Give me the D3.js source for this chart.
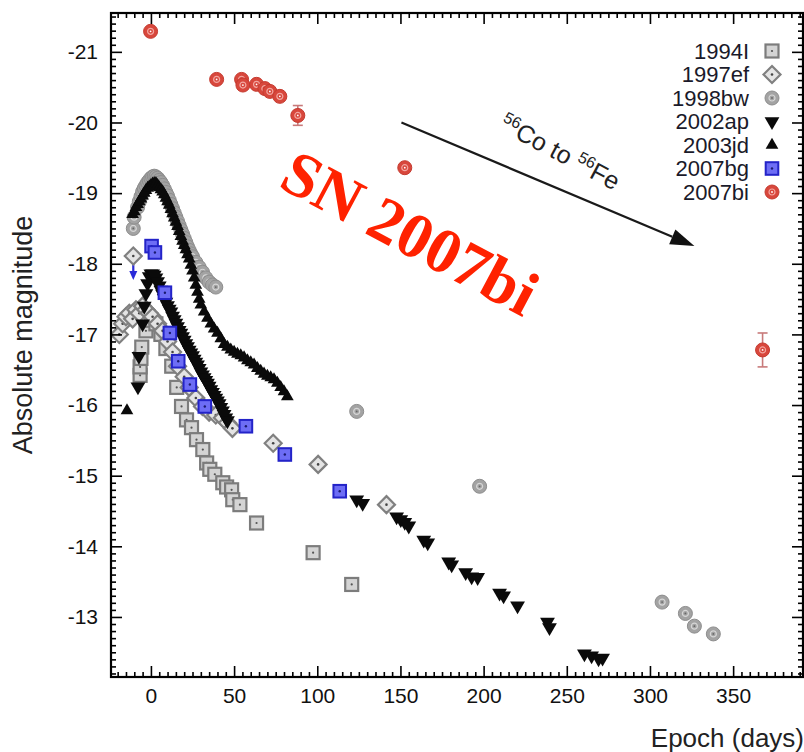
<!DOCTYPE html>
<html><head><meta charset="utf-8">
<script src="https://cdn.jsdelivr.net/npm/d3@7"></script>
<style>body{margin:0;background:#fff}text{font-family:"Liberation Sans",Arial,sans-serif}</style>
</head><body>
<svg id="c" width="804" height="752"></svg>
<script>
// ---------------- data ----------------
const xTicks = [0,50,100,150,200,250,300,350];
const yTicks = [-21,-20,-19,-18,-17,-16,-15,-14,-13];
const seriesNames = ["1994I","1997ef","1998bw","2002ap","2003jd","2007bg","2007bi"];

const sn1994I = [[-6.5,-16.42],[-6.5,-16.54],[-6,-16.66],[-5.5,-16.82],[-3,-17.05],[0,-17.20],[3,-17.15],[6,-17.00],[9,-16.80],[12.5,-16.55],[15.5,-16.25],[18.4,-15.98],[21.4,-15.79],[24.4,-15.68],[27.4,-15.51],[31.2,-15.37],[33.5,-15.18],[35.4,-15.09],[38.4,-15.02],[43.2,-14.90],[45.5,-14.84],[48.5,-14.80],[49.2,-14.66],[53.5,-14.59],[63.5,-14.33],[97.5,-13.91],[120.7,-13.46]];

const sn1997ef = [[-19,-17.00],[-17,-17.15],[-15,-17.25],[-13,-17.30],[-11,-17.22],[-10.6,-18.11],[-9,-17.35],[-7,-17.30],[-5,-17.40],[-3,-17.35],[-1,-17.30],[1,-17.25],[4,-17.15],[7,-17.05],[10,-16.90],[13,-16.75],[16,-16.55],[20,-16.40],[23,-16.25],[27,-16.10],[31,-15.98],[35,-15.90],[39,-15.86],[43,-15.82],[46,-15.75],[49,-15.67],[73.5,-15.46],[100.5,-15.16],[141.6,-14.59]];

const sn1998bw = [[-10.6,-18.50],[-10.1,-18.66],[-8,-18.80],[-7,-18.88],[-6,-18.95],[-5,-19.02],[-4,-19.07],[-3,-19.11],[-2,-19.15],[-1,-19.18],[0,-19.21],[1,-19.23],[2,-19.24],[3,-19.23],[4,-19.21],[5,-19.18],[6,-19.15],[7,-19.11],[8,-19.06],[9,-19.01],[10,-18.96],[11,-18.90],[12,-18.84],[13,-18.78],[14,-18.72],[15,-18.66],[16,-18.60],[17,-18.54],[18,-18.48],[19,-18.42],[20,-18.36],[21,-18.30],[22,-18.24],[23,-18.19],[24,-18.14],[25,-18.10],[27,-18.02],[29,-17.95],[31,-17.88],[33,-17.80],[35,-17.74],[37,-17.70],[39,-17.67],[123.7,-15.91],[197.6,-14.85],[307.3,-13.21],[321.3,-13.05],[326.7,-12.87],[338.1,-12.76]];

const sn2002ap = [[-7.8,-16.26],[-7.2,-16.69],[-5,-17.15],[-4,-17.40],[-3,-17.58],[-2,-17.72],[-1,-17.82],[0,-17.86],[1,-17.86],[2,-17.84],[3,-17.80],[4,-17.75],[5,-17.69],[6,-17.63],[7,-17.57],[8,-17.51],[9,-17.46],[10,-17.41],[11,-17.36],[12,-17.32],[13,-17.26],[14,-17.21],[15,-17.16],[16,-17.11],[17,-17.06],[18,-17.02],[19,-16.97],[20,-16.92],[21,-16.87],[22,-16.83],[23,-16.78],[24,-16.74],[25,-16.70],[26,-16.65],[27,-16.61],[28,-16.57],[29,-16.52],[30,-16.47],[31,-16.43],[32,-16.39],[33,-16.35],[34,-16.31],[35,-16.27],[36,-16.22],[37,-16.18],[38,-16.14],[39,-16.10],[40,-16.06],[41,-16.02],[42,-15.97],[43,-15.92],[44,-15.87],[45,-15.82],[46,-15.78],
[123.7,-14.66],[127.3,-14.61],[147.7,-14.42],[150.2,-14.38],[152.6,-14.34],[155,-14.29],[164,-14.09],[166.4,-14.05],[179,-13.78],[180.8,-13.74],[189.2,-13.63],[192.8,-13.57],[196.4,-13.56],[209.6,-13.34],[212,-13.30],[220.4,-13.16],[238.4,-12.93],[239.6,-12.85],[260.6,-12.48],[264.9,-12.45],[269.1,-12.41],[271.5,-12.42]];

const sn2003jd = [[-14.4,-15.92],[-11,-18.70],[-10,-18.74],[-9,-18.80],[-8,-18.84],[-7,-18.88],[-6,-18.92],[-5,-18.96],[-4,-19.00],[-3,-19.04],[-2,-19.07],[-1,-19.09],[0,-19.11],[1,-19.13],[2,-19.14],[3,-19.14],[4,-19.11],[5,-19.08],[6,-19.05],[7,-19.02],[8,-18.98],[9,-18.93],[10,-18.88],[11,-18.83],[12,-18.77],[13,-18.71],[14,-18.65],[15,-18.59],[16,-18.53],[17,-18.46],[18,-18.39],[19,-18.32],[20,-18.26],[21,-18.20],[22,-18.13],[23,-18.07],[24,-17.98],[25,-17.90],[26,-17.80],[27,-17.70],[28,-17.60],[29,-17.50],[30,-17.42],[32,-17.32],[34,-17.23],[36,-17.15],[38,-17.08],[40,-17.02],[42,-16.94],[44,-16.86],[46,-16.82],[48,-16.78],[50,-16.75],[52,-16.72],[54,-16.70],[56,-16.67],[58,-16.63],[60,-16.60],[62,-16.57],[64,-16.52],[66,-16.48],[68,-16.44],[70,-16.41],[72,-16.39],[74,-16.36],[76,-16.31],[78,-16.25],[80,-16.19],[82,-16.12]];

const sn2007bg = [[0.4,-18.25],[2.4,-18.16],[8.4,-17.59],[11.4,-17.02],[16.4,-16.62],[23.4,-16.29],[32.4,-15.98],[57.1,-15.70],[80.5,-15.30],[113.5,-14.78]];
const sn2007bgLimit = [[-10.6,-18.11,-17.80]];   // day, limit, arrow end

const sn2007bi = [[-0.2,-21.29],[39.5,-20.61],[54.5,-20.61],[55.3,-20.53],[63.5,-20.54],[68.5,-20.48],[71.5,-20.44],[77.5,-20.37],[88.3,-20.10],[152.6,-19.36],[367.7,-16.78]];
const sn2007biErr = [0.04,0.04,0.04,0.04,0.04,0.04,0.04,0.04,0.14,0.05,0.24];

const arrowFrom = [150.6,-20.0], arrowTo = [326.7,-18.25];
const snLabelPos = [156,-18.45];
const coLabelPos = [243.5,-19.47];

// ---------------- layout ----------------
const svg = d3.select("#c");
const L=111, R=803, T=13, B=677;
const x = d3.scaleLinear().domain([-24,392]).range([L,R]);
const y = d3.scaleLinear().domain([-21.55,-12.15]).range([T,B]);

const plot = svg.append("g");
const defs = svg.append("defs");
defs.append("clipPath").attr("id","clip").append("rect").attr("x",L).attr("y",T).attr("width",R-L).attr("height",B-T);
const data = plot.append("g").attr("clip-path","url(#clip)");

// axes
const xMinor = d3.range(-20,392,5).filter(v=>v%50!==0);
const yMinor = d3.range(-215,-121,1).map(v=>v/10).filter(v=>Math.abs(v-Math.round(v))>1e-6);
function styleAxis(g){g.select(".domain").remove();g.selectAll("line").attr("stroke","#000").attr("stroke-width",1.6);}
const fs = 21;
svg.append("g").attr("transform",`translate(0,${B})`).call(d3.axisBottom(x).tickValues(xTicks).tickSizeInner(-11).tickSizeOuter(0).tickPadding(11).tickFormat(d3.format("d"))).call(styleAxis)
  .selectAll("text").attr("font-size",fs).attr("fill","#111");
svg.append("g").attr("transform",`translate(0,${B})`).call(d3.axisBottom(x).tickValues(xMinor).tickSizeInner(-5).tickSizeOuter(0).tickFormat("")).call(styleAxis);
svg.append("g").attr("transform",`translate(0,${T})`).call(d3.axisTop(x).tickValues(xTicks).tickSizeInner(-11).tickSizeOuter(0).tickFormat("")).call(styleAxis);
svg.append("g").attr("transform",`translate(0,${T})`).call(d3.axisTop(x).tickValues(xMinor).tickSizeInner(-5).tickSizeOuter(0).tickFormat("")).call(styleAxis);
svg.append("g").attr("transform",`translate(${L},0)`).call(d3.axisLeft(y).tickValues(yTicks).tickSizeInner(-11).tickSizeOuter(0).tickPadding(13).tickFormat(d=>String(d))).call(styleAxis)
  .selectAll("text").attr("font-size",fs).attr("fill","#111");
svg.append("g").attr("transform",`translate(${L},0)`).call(d3.axisLeft(y).tickValues(yMinor).tickSizeInner(-5).tickSizeOuter(0).tickFormat("")).call(styleAxis);
svg.append("g").attr("transform",`translate(${R},0)`).call(d3.axisRight(y).tickValues(yTicks).tickSizeInner(-11).tickSizeOuter(0).tickFormat("")).call(styleAxis);
svg.append("g").attr("transform",`translate(${R},0)`).call(d3.axisRight(y).tickValues(yMinor).tickSizeInner(-5).tickSizeOuter(0).tickFormat("")).call(styleAxis);
svg.append("rect").attr("x",L).attr("y",T).attr("width",R-L).attr("height",B-T).attr("fill","none").attr("stroke","#000").attr("stroke-width",2.2);

svg.append("text").attr("x",804).attr("y",747).attr("text-anchor","end").attr("font-size",26).attr("fill","#222").text("Epoch (days)");
svg.append("text").attr("transform","translate(32,335) rotate(-90)").attr("text-anchor","middle").attr("font-size",27).attr("fill","#222").text("Absolute magnitude");

// ---------------- markers ----------------
const markers = {
  "1994I": g=>{g.append("rect").attr("x",-6.5).attr("y",-6.5).attr("width",13).attr("height",13).attr("fill","#d4d4d4").attr("stroke","#7c7c7c").attr("stroke-width",2.2);
               g.append("circle").attr("r",1.1).attr("fill","#555");},
  "1997ef": g=>{g.append("path").attr("d","M0,-8.5L8.5,0L0,8.5L-8.5,0Z").attr("fill","#e4e4e4").attr("stroke","#808080").attr("stroke-width",2.2);
               g.append("circle").attr("r",1.3).attr("fill","#444");},
  "1998bw": g=>{g.append("circle").attr("r",7).attr("fill","#a3a3a3").attr("stroke","#8d8d8d").attr("stroke-width",1);
               g.append("circle").attr("r",3).attr("fill","none").attr("stroke","#d6d6d6").attr("stroke-width",1.2);
               g.append("circle").attr("r",0.9).attr("fill","#666");},
  "2002ap": g=>{g.append("path").attr("d",d3.symbol(d3.symbolTriangle,95)()).attr("transform","rotate(180)").attr("fill","#0a0a0a");},
  "2003jd": g=>{g.append("path").attr("d",d3.symbol(d3.symbolTriangle,70)()).attr("fill","#0a0a0a");},
  "2007bg": g=>{g.append("rect").attr("x",-6.3).attr("y",-6.3).attr("width",12.6).attr("height",12.6).attr("fill","#6d6df5").attr("stroke","#2323c8").attr("stroke-width",2);
               g.append("circle").attr("r",1.2).attr("fill","#1a1a70");},
  "2007bi": g=>{g.append("circle").attr("r",7).attr("fill","#d8473c").attr("stroke","#c53a2f").attr("stroke-width",1);
               g.append("circle").attr("r",3).attr("fill","none").attr("stroke","#f3a6a0").attr("stroke-width",1.2);
               g.append("circle").attr("r",0.9).attr("fill","#fff");}
};
const seriesData = {"1994I":sn1994I,"1997ef":sn1997ef,"1998bw":sn1998bw,"2002ap":sn2002ap,"2003jd":sn2003jd,"2007bg":sn2007bg,"2007bi":sn2007bi};
const drawOrder = ["1998bw","1994I","1997ef","2003jd","2002ap","2007bg","2007bi"];

// upper limit arrow for 2007bg (drawn under)
sn2007bgLimit.forEach(d=>{
  const g=data.append("g");
  g.append("line").attr("x1",x(d[0])).attr("x2",x(d[0])).attr("y1",y(d[1])).attr("y2",y(d[2])-5).attr("stroke","#2a2ad8").attr("stroke-width",2.2);
  g.append("path").attr("d",`M${x(d[0])-4},${y(d[2])-7}L${x(d[0])+4},${y(d[2])-7}L${x(d[0])},${y(d[2])+2}Z`).attr("fill","#2a2ad8");
});

drawOrder.forEach(name=>{
  const arr = seriesData[name];
  if(name==="2007bi"){
    arr.forEach((d,i)=>{
      const e=sn2007biErr[i]; if(e<0.1) return;
      const g=data.append("g").attr("stroke","#c87a7a").attr("stroke-width",1.6);
      g.append("line").attr("x1",x(d[0])).attr("x2",x(d[0])).attr("y1",y(d[1]-e)).attr("y2",y(d[1]+e));
      g.append("line").attr("x1",x(d[0])-5).attr("x2",x(d[0])+5).attr("y1",y(d[1]-e)).attr("y2",y(d[1]-e));
      g.append("line").attr("x1",x(d[0])-5).attr("x2",x(d[0])+5).attr("y1",y(d[1]+e)).attr("y2",y(d[1]+e));
    });
  }
  arr.forEach(d=>{
    const g=data.append("g").attr("transform",`translate(${x(d[0])},${y(d[1])})`);
    markers[name](g);
  });
});

// ---------------- legend ----------------
const leg = svg.append("g");
seriesNames.forEach((n,i)=>{
  const yy = 51 + i*23.5;
  leg.append("text").attr("x",749).attr("y",yy).attr("dy","0.36em").attr("text-anchor","end").attr("font-size",22).attr("fill","#1a1a2a").text(n);
  const g = leg.append("g").attr("transform",`translate(772,${yy})`);
  markers[n](g);
});

// ---------------- annotations ----------------
const ax1=x(arrowFrom[0]), ay1=y(arrowFrom[1]), ax2=x(arrowTo[0]), ay2=y(arrowTo[1]);
const ang = Math.atan2(ay2-ay1, ax2-ax1);
const hl=24, hw=8;
const bx = ax2 - hl*Math.cos(ang), by = ay2 - hl*Math.sin(ang);
svg.append("line").attr("x1",ax1).attr("y1",ay1).attr("x2",bx).attr("y2",by).attr("stroke","#1a1a1a").attr("stroke-width",2.2);
svg.append("path").attr("d",`M${ax2},${ay2}L${bx+hw*Math.sin(ang)},${by-hw*Math.cos(ang)}L${bx-hw*Math.sin(ang)},${by+hw*Math.cos(ang)}Z`).attr("fill","#111");

const co = svg.append("text").attr("transform",`translate(${x(coLabelPos[0])},${y(coLabelPos[1])}) rotate(28)`).attr("text-anchor","middle").attr("font-size",25).attr("fill","#222");
co.append("tspan").attr("font-size",16).attr("dy",-9).text("56");
co.append("tspan").attr("dy",9).text("Co to ");
co.append("tspan").attr("font-size",16).attr("dy",-9).text("56");
co.append("tspan").attr("dy",9).text("Fe");

svg.append("text").attr("transform",`translate(${x(snLabelPos[0])},${y(snLabelPos[1])}) rotate(28)`)
  .attr("text-anchor","middle").attr("dy","0.35em")
  .style("font-family","'Liberation Serif','Times New Roman',serif")
  .attr("font-weight","bold").attr("font-size",64).attr("fill","#ff2200").text("SN 2007bi");
</script>
</body></html>
